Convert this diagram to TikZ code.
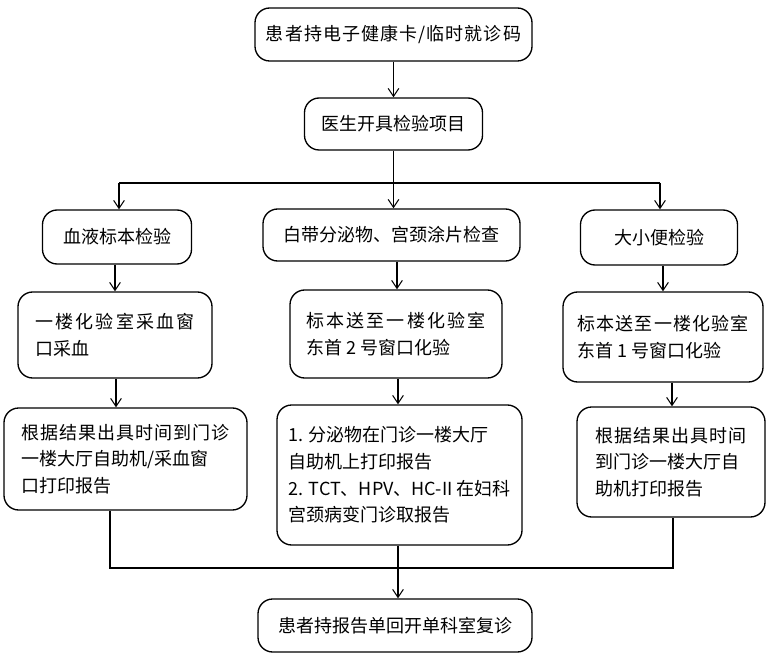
\documentclass[tikz,border=0pt]{standalone}
\usepackage{fontspec}
\setmainfont{Noto Sans CJK SC}
\newfontfamily\cjkwide[LetterSpace=12]{Noto Sans CJK SC}
\newfontfamily\cjkloose[LetterSpace=6]{Noto Sans CJK SC}
\usepackage{tikz}
\usetikzlibrary{positioning,arrows.meta,calc}
\tikzset{
    flow_box/.style={draw, line width=1pt, rounded corners=11pt, align=left,
        inner xsep=6pt, font=\fontsize{13.5}{20}\selectfont},
    flow_arrow/.style={line width=0.8pt, -{Straight Barb[length=6pt,width=8pt]}},
    flow_line/.style={line width=0.8pt},
}

\begin{document}
\begin{tikzpicture}[x=0.75pt, y=-0.75pt]
        \useasboundingbox (0,0) rectangle (781,659);

        % Row 1: Registration and prescription
        \node[flow_box, minimum width=277*0.75pt, minimum height=53*0.75pt] (card) at (393.5,34.5) {\cjkloose 患者持电子健康卡/临时就诊码};
        \node[flow_box, minimum width=178*0.75pt, minimum height=52*0.75pt] (doctor) at (393.5,124) {医生开具检验项目};

        % Row 2: Kinds of test
        \node[flow_box, minimum width=149*0.75pt, minimum height=54*0.75pt] (blood) at (117,237) {血液标本检验};
        \node[flow_box, minimum width=257*0.75pt, minimum height=52*0.75pt] (smear) at (391.5,235) {白带分泌物、宫颈涂片检查};
        \node[flow_box, minimum width=157*0.75pt, minimum height=55*0.75pt] (urine) at (659,237.5) {大小便检验};

        % Row 3: Sampling
        \node[flow_box, minimum width=194*0.75pt, minimum height=86*0.75pt] (lab1) at (115,335) {\cjkwide 一楼化验室采血窗\\口采血};
        \node[flow_box, minimum width=212*0.75pt, minimum height=88*0.75pt] (lab2) at (396,334) {\cjkwide 标本送至一楼化验室\\东首 2 号窗口化验};
        \node[flow_box, minimum width=200*0.75pt, minimum height=90*0.75pt] (lab3) at (663,337) {\cjkloose 标本送至一楼化验室\\东首 1 号窗口化验};

        % Row 4: Reports
        \node[flow_box, minimum width=243*0.75pt, minimum height=102*0.75pt] (rep1) at (125.5,459) {\cjkloose 根据结果出具时间到门诊\\一楼大厅自助机/采血窗\\口打印报告};
        \node[flow_box, minimum width=245*0.75pt, minimum height=140*0.75pt] (rep2) at (399.5,475) {1. 分泌物在门诊一楼大厅\\自助机上打印报告\\2. TCT、HPV、HC-II 在妇科\\宫颈病变门诊取报告};
        \node[flow_box, minimum width=188*0.75pt, minimum height=110*0.75pt] (rep3) at (671,462) {\cjkloose 根据结果出具时间\\到门诊一楼大厅自\\助机打印报告};

        % Row 5: Return visit
        \node[flow_box, minimum width=274*0.75pt, minimum height=53*0.75pt] (back) at (395,625.5) {患者持报告单回开单科室复诊};

        % Branch and join points
        \coordinate (split_l) at (119,183);
        \coordinate (split_r) at (660,183);
        \coordinate (join_l) at (110,568);
        \coordinate (join_r) at (673,568);

        % Connectors
        \draw[flow_arrow] (card) -- (card |- doctor.north);
        \draw[flow_arrow] (doctor) -- (doctor |- smear.north);
        \draw[flow_line] (split_l) -- (split_r);
        \draw[flow_arrow] (split_l) -- (split_l |- blood.north);
        \draw[flow_arrow] (split_r) -- (split_r |- urine.north);
        \draw[flow_arrow] (lab1.north |- blood.south) -- (lab1);
        \draw[flow_arrow] (397,0 |- smear.south) -- (397,0 |- lab2.north);
        \draw[flow_arrow] (lab3.north |- urine.south) -- (lab3);
        \draw[flow_arrow] (116,0 |- lab1.south) -- (116,0 |- rep1.north);
        \draw[flow_arrow] (398,0 |- lab2.south) -- (398,0 |- rep2.north);
        \draw[flow_arrow] (672,0 |- lab3.south) -- (672,0 |- rep3.north);
        \draw[flow_line] (join_l |- rep1.south) -- (join_l) -- (join_r) -- (join_r |- rep3.south);
        \draw[flow_arrow] (398,0 |- rep2.south) -- (398,0 |- back.north);
\end{tikzpicture}
\end{document}
